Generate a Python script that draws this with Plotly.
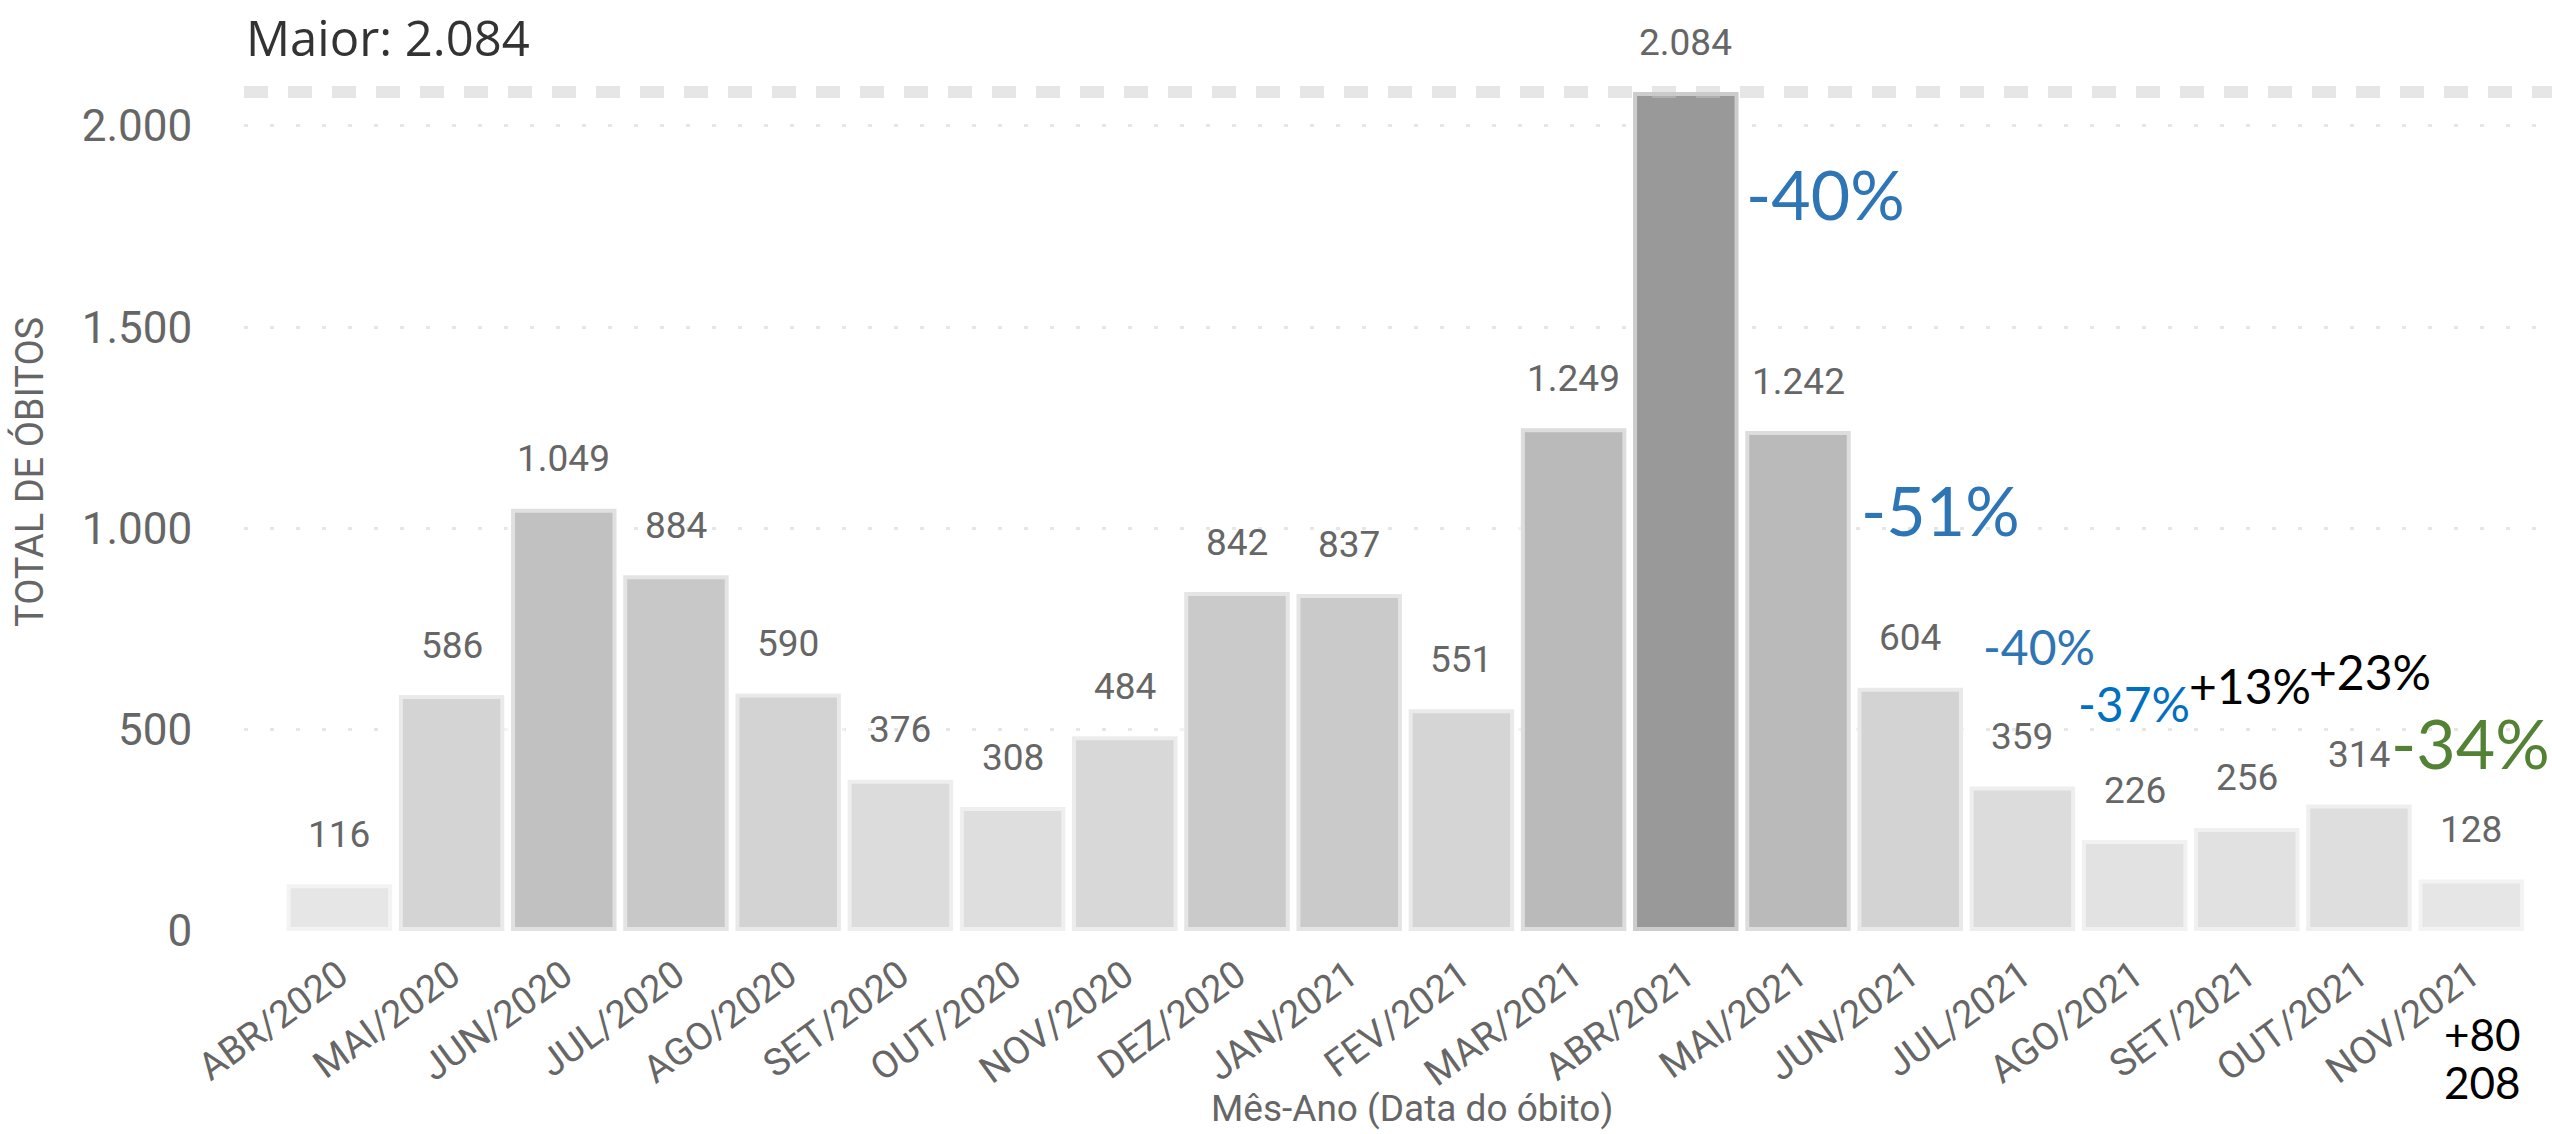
import plotly.graph_objects as go

# ---- data ----
meses = ["ABR/2020", "MAI/2020", "JUN/2020", "JUL/2020", "AGO/2020", "SET/2020",
         "OUT/2020", "NOV/2020", "DEZ/2020", "JAN/2021", "FEV/2021", "MAR/2021",
         "ABR/2021", "MAI/2021", "JUN/2021", "JUL/2021", "AGO/2021", "SET/2021",
         "OUT/2021", "NOV/2021"]
obitos = [116, 586, 1049, 884, 590, 376, 308, 484, 842, 837, 551, 1249,
          2084, 1242, 604, 359, 226, 256, 314, 128]
y_ticks = [0, 500, 1000, 1500, 2000]
variacoes = ["-40%", "-51%", "-40%", "-37%", "+13%", "+23%", "-34%"]
nota_nov = ["+80", "208"]

# ---- layout geometry / styles ----
W, H = 2552, 1134
ML, MR, MT, MB = 244, 0, 20, 203
PW, PH = W - ML - MR, H - MT - MB
Y_TOP = 2263


def px_to_paper(px, py):
    return (px - ML) / PW, (H - MB - py) / PH


def fmt_br(v):
    return f"{v:,}".replace(",", ".")


DIN = "Roboto, DejaVu Sans Condensed, sans-serif"
CAL = "Lato, Carlito, sans-serif"
GRAY = "#666666"

fig = go.Figure()
fig.add_trace(go.Bar(
    x=meses, y=obitos, width=0.94,
    marker=dict(color=obitos, colorscale=[[0, "#e6e6e6"], [1, "#999999"]],
                cmin=min(obitos), cmax=max(obitos), showscale=False,
                line=dict(color="rgba(255,255,255,0.5)", width=8)),
    hoverinfo="x+y", showlegend=False,
))

annotations = []
# data labels above bars
for m, v in zip(meses, obitos):
    annotations.append(dict(x=m, y=v, xref="x", yref="y", text=fmt_br(v),
                            showarrow=False, yshift=50, yanchor="middle",
                            font=dict(family=DIN, size=37, color=GRAY)))

# "Maior" (max) line label
vmax = max(obitos)
annotations.append(dict(x=0, y=vmax, xref="paper", yref="y", xanchor="left",
                        yanchor="middle", yshift=55, showarrow=False,
                        text=f"Maior: {fmt_br(vmax)}",
                        font=dict(family="Segoe UI, Open Sans, sans-serif", size=49, color="#333333")))

# percentage-change notes (text, center px, size, colour)
var_style = [
    (1825, 193, 68, "#2E75B6"),
    (1940, 509, 68, "#2E75B6"),
    (2039, 646, 48, "#2E75B6"),
    (2134, 703, 48, "#0070C0"),
    (2250, 685, 48, "#000000"),
    (2370, 671, 48, "#000000"),
    (2470, 742, 68, "#548235"),
]
for txt, (cx, cy, sz, col) in zip(variacoes, var_style):
    px, py = px_to_paper(cx, cy)
    annotations.append(dict(x=px, y=py, xref="paper", yref="paper", text=txt,
                            showarrow=False, xanchor="center", yanchor="middle",
                            font=dict(family=CAL, size=sz, color=col)))
for txt, cy in zip(nota_nov, [1034, 1082]):
    px, py = px_to_paper(2482, cy)
    annotations.append(dict(x=px, y=py, xref="paper", yref="paper", text=txt,
                            showarrow=False, xanchor="center", yanchor="middle",
                            font=dict(family=CAL, size=44, color="#000000")))

# axis titles
px, py = px_to_paper(29, 472)
annotations.append(dict(x=px, y=py, xref="paper", yref="paper", text="TOTAL DE ÓBITOS",
                        textangle=-90, showarrow=False, xanchor="center", yanchor="middle",
                        font=dict(family=DIN, size=38, color=GRAY)))
px, py = px_to_paper(1412, 1108)
annotations.append(dict(x=px, y=py, xref="paper", yref="paper", text="Mês-Ano (Data do óbito)",
                        showarrow=False, xanchor="center", yanchor="middle",
                        font=dict(family=DIN, size=37, color=GRAY)))

fig.update_layout(
    width=W, height=H, autosize=False,
    margin=dict(l=ML, r=MR, t=MT, b=MB, pad=0),
    paper_bgcolor="white", plot_bgcolor="white",
    separators=",.",
    annotations=annotations,
    shapes=[dict(type="line", xref="paper", x0=0, x1=1, yref="y", y0=vmax, y1=vmax,
                 layer="above", line=dict(color="rgba(200,200,200,0.46)", width=12, dash="24px,20px"))],
    xaxis=dict(type="category", range=[-0.85, 19.72], tickangle=-36,
               tickfont=dict(family=DIN, size=38, color=GRAY),
               ticks="outside", ticklen=6, tickcolor="rgba(0,0,0,0)",
               showgrid=False, zeroline=False, showline=False, fixedrange=True),
    yaxis=dict(range=[0, Y_TOP], tickvals=y_ticks, tickformat=",d",
               tickfont=dict(family=DIN, size=44, color=GRAY),
               ticks="outside", ticklen=42, tickcolor="rgba(0,0,0,0)",
               showgrid=True, gridcolor="#e6e6e6", gridwidth=3, griddash="4px,22px",
               zeroline=False, showline=False, fixedrange=True),
)

fig.write_html("out.html", config={"displayModeBar": False},
               post_script="document.body.style.margin='0';document.body.style.overflow='hidden';")
